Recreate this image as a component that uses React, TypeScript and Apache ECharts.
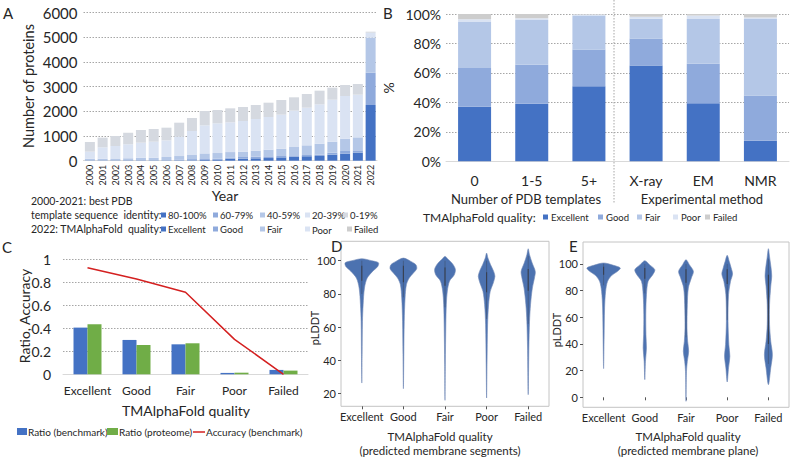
import React, { useEffect, useRef } from "react";
import * as echarts from "echarts";

// ---------- Panel A ----------
const years = ["2000","2001","2002","2003","2004","2005","2006","2007","2008","2009","2010","2011","2012","2013","2014","2015","2016","2017","2018","2019","2020","2021","2022"];
const a80 = [5,5,5,5,5,5,5,10,15,50,50,80,80,95,108,135,162,180,190,244,285,325,2258];
const a60 = [15,15,15,15,20,20,20,40,50,45,30,50,70,68,68,55,55,50,54,81,108,95,1310];
const a40 = [62,62,50,75,97,97,124,139,165,200,231,220,217,244,271,298,338,393,446,446,500,527,1419];
const a20 = [284,460,526,569,609,649,677,785,974,1138,1204,1205,1242,1283,1324,1378,1473,1527,1595,1703,1729,1729,200];
const a0 = [392,392,405,472,513,514,513,567,527,582,540,568,568,568,581,594,542,554,554,486,447,433,43];
const aNames = ["80-100%","60-79%","40-59%","20-39%","0-19%"];
const qualNames = ["Excellent","Good","Fair","Poor","Failed"];

// ---------- Panel B ----------
const bCats = ["0","1-5","5+","X-ray","EM","NMR"];
const bExcellent = [37, 39, 51, 65, 39.4, 14];
const bGood = [26.3, 26.6, 24.9, 18.4, 26.9, 30.6];
const bFair = [31.3, 30.3, 23.1, 13.3, 30.3, 52];
const bPoor = [1.8, 1.2, 0.6, 1.4, 2.3, 1.1];
const bFailed = [3.6, 2.9, 0.4, 1.9, 1.1, 2.3];

// ---------- Panel C ----------
const cCats = ["Excellent","Good","Fair","Poor","Failed"];
const cBench = [0.405, 0.298, 0.26, 0.012, 0.038];
const cProt = [0.434, 0.254, 0.269, 0.014, 0.032];
const cAcc = [0.925, 0.827, 0.711, 0.303, 0.0];

// ---------- Panel D (pLDDT, relative half-width) ----------
const dExcellent = [[101.2,0],[100,0.24],[98.8,0.40],[96.6,0.385],[93.6,0.26],[89.6,0.13],[83.6,0.064],[73.5,0.032],[63.5,0.016],[43.5,0.008],[26.4,0]];
const dGood = [[101.6,0],[99.6,0.18],[97.6,0.30],[95.2,0.32],[92.6,0.24],[89.6,0.14],[85.6,0.072],[77.6,0.04],[63.5,0.02],[43.5,0.01],[23,0]];
const dFair = [[102.6,0],[100.8,0.08],[98.2,0.18],[94.8,0.25],[91.4,0.22],[87.8,0.11],[81.8,0.056],[73.8,0.032],[61.8,0.02],[37.7,0.008],[16,0]];
const dPoor = [[104.6,0],[101.6,0.032],[97.6,0.096],[93.6,0.17],[90.6,0.2],[86.6,0.16],[81.6,0.088],[73.6,0.048],[61.5,0.024],[37.4,0.01],[17.4,0]];
const dFailed = [[107.2,0],[103.6,0.032],[98.6,0.096],[93.6,0.17],[89.6,0.15],[83.6,0.10],[73.6,0.056],[63.5,0.032],[47.5,0.016],[19.4,0]];
const dMedian = [95, 94, 92, 87, 89];
const dInner = [[80,88,97,100],[78,87,97,100],[72,85,96,100],[65,81,93,100],[62,82,95,103]];

// ---------- Panel E ----------
const eExcellent = [[100.75,0],[99,0.24],[97,0.405],[94.5,0.34],[91.5,0.2],[87,0.097],[79.5,0.049],[67,0.024],[44.5,0.012],[21.5,0]];
const eGood = [[102.5,0],[99.5,0.113],[95.75,0.243],[92,0.194],[87,0.081],[77,0.04],[62,0.024],[47,0.028],[37,0.04],[27,0.016],[13.25,0]];
const eFair = [[103.25,0],[99.5,0.081],[94.5,0.18],[89.5,0.13],[82,0.057],[69.5,0.032],[52,0.024],[42,0.04],[34.5,0.065],[27,0.032],[19.5,0.012],[-3,0]];
const ePoor = [[106.5,0],[102,0.049],[97,0.097],[92.5,0.13],[87,0.081],[77,0.032],[57,0.02],[39.5,0.04],[30.75,0.065],[22,0.032],[11.5,0]];
const eFailed = [[111.5,0],[104.5,0.032],[97,0.065],[90.75,0.081],[83.25,0.057],[69.5,0.028],[54.5,0.028],[42,0.057],[32,0.097],[22,0.057],[9.5,0]];
const eMedian = [96, 94, 92, 91, 88];
const eInner = [[84,92,98,100],[78,89,97,100],[45,86,96,100],[58,85,96,100],[25,40,92,104]];

const dTicks = [20, 40, 60, 80, 100];
const eTicks = [0, 20, 40, 60, 80, 100];

const FONT = "Lato, 'Noto Sans', sans-serif";
const TXT = "#262626";
const C1 = "#4472C4", C2 = "#8FAADC", C3 = "#B4C7E7", C4 = "#DAE3F3", C5A = "#D5D9E0", C5B = "#CDCDCD";
const VIOLIN = "#4C72B0";

function txt(x: number, y: number, text: string, size: number, o: any = {}) {
  return {
    type: "text", x, y, rotation: o.rot || 0, silent: true,
    style: { text, fontSize: size, fontFamily: FONT, fill: o.color || TXT, align: o.align || "left", verticalAlign: "middle" },
  };
}
function sq(x: number, y: number, w: number, h: number, color: string) {
  return { type: "rect", silent: true, shape: { x, y, width: w, height: h }, style: { fill: color } };
}

function violinRender(profiles: number[][][], inner: number[][]) {
  return (params: any, api: any) => {
    const i = api.value(0);
    const prof = profiles[i];
    const band = api.size([1, 0])[0];
    const cx = api.coord([i, 0])[0];
    const right = prof.map(([v, w]) => [cx + w * band, api.coord([i, v])[1]]);
    const left = prof.slice().reverse().map(([v, w]) => [cx - w * band, api.coord([i, v])[1]]);
    const pts = right.concat(left.slice(1, -1));
    const [wl, q1, q3, wh] = inner[i];
    const y = (v: number) => api.coord([i, v])[1];
    return {
      type: "group",
      children: [
        { type: "polygon", shape: { points: pts, smooth: 0.3 }, style: { fill: VIOLIN, stroke: "#7088b5", lineWidth: 0.6 } },
        { type: "line", shape: { x1: cx, y1: y(wh), x2: cx, y2: y(wl) }, style: { stroke: "#3a4252", lineWidth: 0.5, opacity: 0.8 } },
        { type: "line", shape: { x1: cx, y1: y(q3), x2: cx, y2: y(q1) }, style: { stroke: "#363b46", lineWidth: 1.1, opacity: 0.85 } },
      ],
    };
  };
}

const gridLine = { show: true, lineStyle: { color: "#a6a6a6", type: [1.5, 1.5], width: 1 } };
const baseAxisLine = { show: true, lineStyle: { color: "#d9d9d9", width: 1 } };

function buildOption() {
  const aColors = [C1, C2, C3, C4, C5A];
  const aData = [a80, a60, a40, a20, a0];
  const bData = [bExcellent, bGood, bFair, bPoor, bFailed];
  const bColors = [C1, C2, C3, C4, C5B];

  const series: any[] = [];
  aData.forEach((d, k) => {
    series.push({ name: aNames[k], type: "bar", stack: "a", xAxisIndex: 0, yAxisIndex: 0, barWidth: 10, data: d, itemStyle: { color: aColors[k] } });
  });
  bData.forEach((d, k) => {
    series.push({ name: qualNames[k], type: "bar", stack: "b", xAxisIndex: 1, yAxisIndex: 1, barWidth: 33, data: d, itemStyle: { color: bColors[k] } });
  });
  series.push({ name: "Ratio (benchmark)", type: "bar", xAxisIndex: 2, yAxisIndex: 2, barWidth: 14, barGap: "0%", data: cBench, itemStyle: { color: C1 } });
  series.push({ name: "Ratio (proteome)", type: "bar", xAxisIndex: 2, yAxisIndex: 2, barWidth: 14, barGap: "0%", data: cProt, itemStyle: { color: "#70AD47" } });
  series.push({ name: "Accuracy (benchmark)", type: "line", xAxisIndex: 2, yAxisIndex: 2, data: cAcc, symbol: "none", lineStyle: { color: "#D42020", width: 1.5 } });
  series.push({
    type: "custom", xAxisIndex: 3, yAxisIndex: 3,
    data: dMedian.map((m, i) => [i, m]), encode: { x: 0, y: 1 },
    renderItem: violinRender([dExcellent, dGood, dFair, dPoor, dFailed], dInner),
  });
  series.push({
    type: "custom", xAxisIndex: 4, yAxisIndex: 4,
    data: eMedian.map((m, i) => [i, m]), encode: { x: 0, y: 1 },
    renderItem: violinRender([eExcellent, eGood, eFair, ePoor, eFailed], eInner),
  });

  const lab = (size: number, margin: number, extra: any = {}) => ({ fontSize: size, fontFamily: FONT, color: TXT, margin, ...extra });
  const frameGrid = { show: true, borderColor: "#c4c4c4", borderWidth: 1, backgroundColor: "transparent" };

  const graphic: any[] = [
    // panel letters
    txt(3, 13, "A", 15), txt(383, 13, "B", 15), txt(2, 247, "C", 15), txt(331, 246, "D", 15), txt(569, 246, "E", 15),
    // A titles
    txt(28, 86, "Number of proteins", 14.5, { rot: Math.PI / 2, align: "center" }),
    txt(225, 195, "Year", 14, { align: "center" }),
    // A legend
    txt(31, 201, "2000-2021: best PDB", 10.5),
    txt(31, 215, "template sequence  identity:", 10.5),
    txt(31, 229, "2022: TMAlphaFold  quality:", 10.5),
    // B
    txt(388, 88, "%", 14, { rot: Math.PI / 2, align: "center" }),
    txt(526, 199, "Number of PDB templates", 13, { align: "center" }),
    txt(702, 199, "Experimental method", 13, { align: "center" }),
    txt(423, 217, "TMAlphaFold quality:", 12),
    { type: "line", silent: true, shape: { x1: 614, y1: 0, x2: 614, y2: 204 }, style: { stroke: "#a6a6a6", lineWidth: 1, lineDash: [1.5, 1.5] } },
    // C
    txt(24, 316, "Ratio, Accuracy", 14, { rot: Math.PI / 2, align: "center" }),
    txt(186, 410, "TMAlphaFold quality", 14, { align: "center" }),
    sq(17, 428, 10, 7, C1), txt(28, 432, "Ratio (benchmark)", 10),
    sq(107, 428, 11, 7, "#70AD47"), txt(119, 432, "Ratio (proteome)", 10),
    { type: "line", silent: true, shape: { x1: 193, y1: 432, x2: 205, y2: 432 }, style: { stroke: "#D42020", lineWidth: 1.5 } },
    txt(206, 432, "Accuracy (benchmark)", 10),
    // D / E
    txt(314, 328, "pLDDT", 11, { rot: Math.PI / 2, align: "center" }),
    txt(440, 436, "TMAlphaFold quality", 11.5, { align: "center" }),
    txt(440, 450, "(predicted membrane segments)", 11.5, { align: "center" }),
    txt(556, 330, "pLDDT", 11, { rot: Math.PI / 2, align: "center" }),
    txt(688, 436, "TMAlphaFold quality", 11.5, { align: "center" }),
    txt(688, 450, "(predicted membrane plane)", 11.5, { align: "center" }),
  ];
  // A legend items
  const aLegX = [161, 213, 260, 305, 343];
  const qLegX = [161, 213, 260, 305, 347];
  aNames.forEach((n, k) => {
    graphic.push(sq(aLegX[k], 212.5, 5, 5, aColors[k]));
    graphic.push(txt(aLegX[k] + 7, 215, n, 9.5));
  });
  qualNames.forEach((n, k) => {
    graphic.push(sq(qLegX[k], 226.5, 5, 5, k === 4 ? C5B : aColors[k]));
    graphic.push(txt(qLegX[k] + 7, k === 3 ? 230 : 229, n, 9.5));
  });
  // B legend items
  const bLegSq = [543, 598, 637, 673, 705];
  qualNames.forEach((n, k) => {
    graphic.push(sq(bLegSq[k], 214.5, 5, 5, bColors[k]));
    graphic.push(txt(bLegSq[k] + 8, 217, n, 9.5));
  });

  return {
    animation: false,
    backgroundColor: "#ffffff",
    textStyle: { fontFamily: FONT },
    grid: [
      { left: 83.5, top: 12.7, width: 293.5, height: 148, outerBoundsMode: "none" },
      { left: 446, top: 14, width: 343, height: 147.3, outerBoundsMode: "none" },
      { left: 63, top: 259, width: 245, height: 115.3, outerBoundsMode: "none" },
      { left: 341, top: 241.3, width: 208, height: 165, outerBoundsMode: "none", ...frameGrid },
      { left: 583, top: 242, width: 206, height: 165.3, outerBoundsMode: "none", ...frameGrid },
    ],
    xAxis: [
      { type: "category", gridIndex: 0, data: years, axisLine: baseAxisLine, axisTick: { show: false }, axisLabel: lab(9, 4, { rotate: 90, interval: 0 }) },
      { type: "category", gridIndex: 1, data: bCats, axisLine: baseAxisLine, axisTick: { show: false }, axisLabel: lab(14, 12) },
      { type: "category", gridIndex: 2, data: cCats, axisLine: baseAxisLine, axisTick: { show: false }, axisLabel: lab(12, 10, { interval: 0 }) },
      { type: "category", gridIndex: 3, data: cCats, axisLine: { show: false }, axisTick: { show: true, alignWithLabel: true, length: 3, lineStyle: { color: "#555" } }, axisLabel: lab(11, 5, { interval: 0 }) },
      { type: "category", gridIndex: 4, data: cCats, axisLine: { show: false }, axisTick: { show: true, alignWithLabel: true, length: 3, lineStyle: { color: "#555" } }, axisLabel: lab(11, 5, { interval: 0 }) },
    ],
    yAxis: [
      { type: "value", gridIndex: 0, min: 0, max: 6000, interval: 1000, splitLine: gridLine, axisLine: { show: false }, axisTick: { show: false }, axisLabel: lab(15, 6, { formatter: (v: number) => String(v) }) },
      { type: "value", gridIndex: 1, min: 0, max: 100, interval: 20, splitLine: gridLine, axisLine: { show: false }, axisTick: { show: false }, axisLabel: lab(14, 5, { formatter: "{value}%" }) },
      { type: "value", gridIndex: 2, min: 0, max: 1, interval: 0.2, splitLine: gridLine, axisLine: { show: false }, axisTick: { show: false }, axisLabel: lab(14, 12) },
      { type: "value", gridIndex: 3, min: 12.4, max: 111.7, splitLine: { show: false }, axisLine: { show: false },
        axisTick: { show: true, length: 3, customValues: dTicks, lineStyle: { color: "#555" } }, axisLabel: lab(11, 5, { customValues: dTicks }) },
      { type: "value", gridIndex: 4, min: -7.5, max: 116.5, splitLine: { show: false }, axisLine: { show: false },
        axisTick: { show: true, length: 3, customValues: eTicks, lineStyle: { color: "#555" } }, axisLabel: lab(11, 5, { customValues: eTicks }) },
    ],
    series,
    graphic,
  };
}

export default function App() {
  const ref = useRef<HTMLDivElement>(null);
  useEffect(() => {
    if (!ref.current) return;
    const chart = echarts.init(ref.current, null, { renderer: "svg" });
    chart.setOption(buildOption() as any);
    return () => chart.dispose();
  }, []);
  return <div ref={ref} style={{ position: "fixed", left: 0, top: 0, width: 793, height: 458, background: "#fff" }} />;
}
